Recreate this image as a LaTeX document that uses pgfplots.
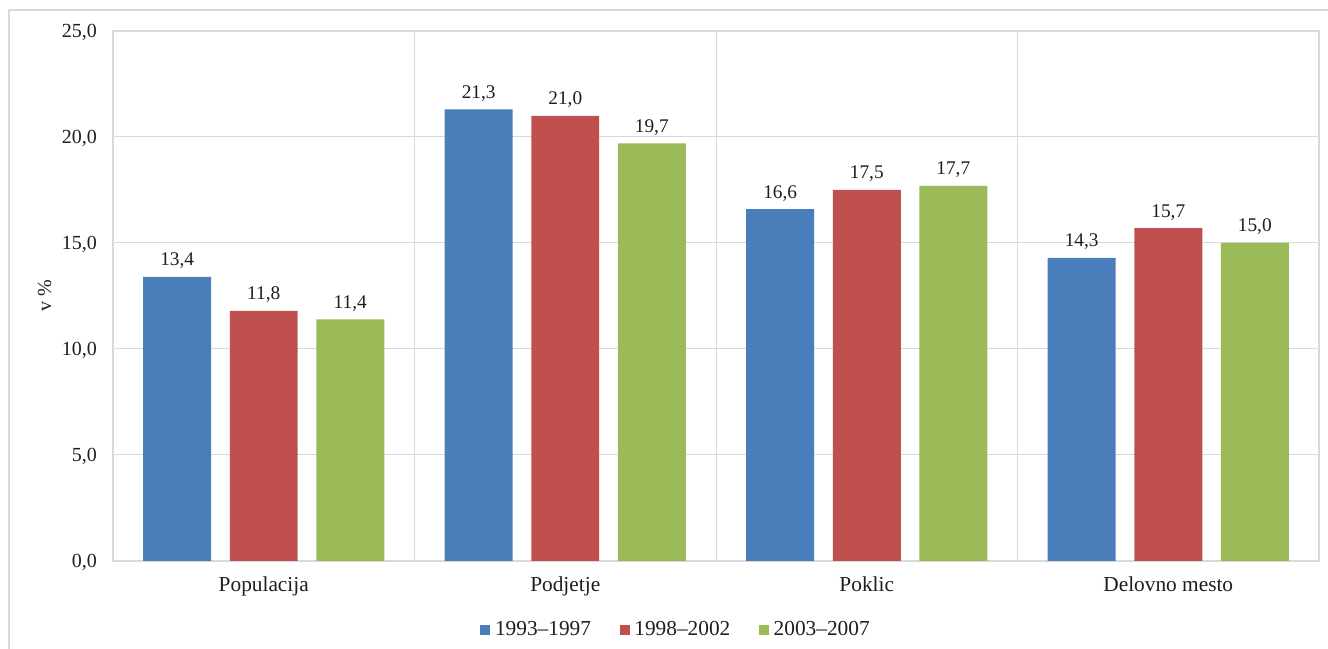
\documentclass[border=0pt]{standalone}
\usepackage{fontspec}
\setmainfont{Liberation Serif}
\usepackage{pgfplots}
\pgfplotsset{compat=1.18}
\definecolor{cblue}{HTML}{4A7EBB}
\definecolor{cred}{HTML}{C0504D}
\definecolor{cgreen}{HTML}{9BBB59}
\definecolor{gridc}{HTML}{D9D9D9}
\definecolor{txt}{HTML}{1E1E1E}
\begin{document}
\begin{tikzpicture}
\path[use as bounding box] (0pt,0pt) rectangle (996pt,486.75pt);
\draw[gridc, line width=1.3pt] (6.75pt,0pt) -- (6.75pt,479.25pt) -- (996pt,479.25pt);
\node[rotate=90, text=txt, font=\fontsize{15}{18}\selectfont] at (33.4pt,264.75pt) {v \%};
\begin{axis}[
  at={(84.75pt,66pt)}, anchor=south west,
  scale only axis, width=904.5pt, height=397.5pt,
  xmin=-0.5, xmax=3.5, ymin=0, ymax=25,
  xtick={0,1,2,3},
  xticklabels={Populacija,Podjetje,Poklic,Delovno mesto},
  minor xtick={0.5,1.5,2.5},
  ytick={0,5,10,15,20,25},
  xmajorgrids=false, xminorgrids=true, ymajorgrids=true,
  grid style={gridc, line width=0.75pt},
  minor grid style={gridc, line width=0.75pt},
  axis line style={gridc, line width=0.9pt},
  major tick length=0pt, minor tick length=0pt,
  tick style={draw=none},
  /pgf/number format/assume math mode=true,
  yticklabel={\pgfmathprintnumber[fixed,fixed zerofill,precision=1,use comma,assume math mode=true]{\tick}},
  yticklabel style={text=txt, font=\fontsize{15}{18}\selectfont, xshift=-8.5pt, yshift=-1pt},
  xticklabel style={text=txt, font=\fontsize{16}{19}\selectfont, yshift=-8pt},
  ybar, bar width=0.2255,
  nodes near coords={\pgfmathprintnumber[fixed,fixed zerofill,precision=1,use comma,assume math mode=true]{\pgfplotspointmeta}},
  every node near coord/.append style={text=txt, font=\fontsize{14.5}{17}\selectfont, yshift=2.5pt},
  legend columns=3,
  legend style={at={(rel axis cs:0.468,-0.130)}, anchor=center, draw=none, fill=none,
    font=\fontsize{16}{19}\selectfont, text=txt,
    /tikz/every even column/.append style={column sep=18pt},
    nodes={inner xsep=3.5pt}},
  legend image code/.code={\path[#1, draw=none] (0pt,-3.75pt) rectangle (7.5pt,3.75pt);},
]
\addplot[fill=cblue, draw=none, bar shift=-0.287] coordinates {(0,13.4) (1,21.3) (2,16.6) (3,14.3)};
\addplot[fill=cred, draw=none, bar shift=0] coordinates {(0,11.8) (1,21.0) (2,17.5) (3,15.7)};
\addplot[fill=cgreen, draw=none, bar shift=0.287] coordinates {(0,11.4) (1,19.7) (2,17.7) (3,15.0)};
\legend{1993--1997,1998--2002,2003--2007}
\end{axis}
\end{tikzpicture}
\end{document}
